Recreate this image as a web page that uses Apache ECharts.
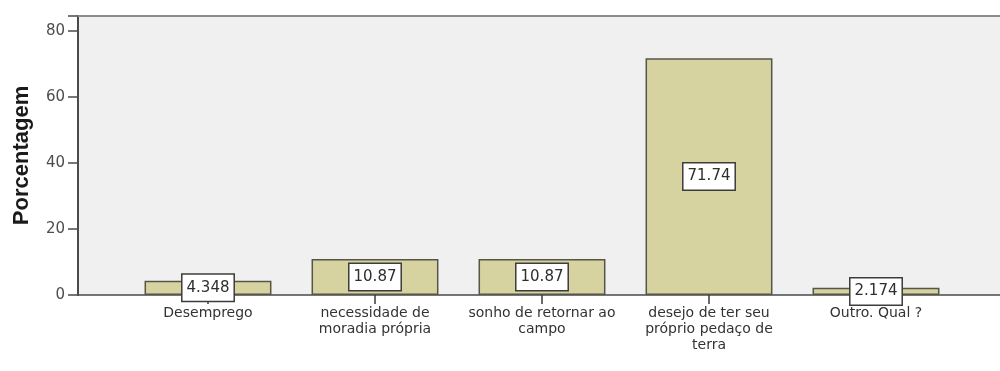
<!DOCTYPE html>
<html>
<head>
<meta charset="utf-8">
<style>
  html, body { margin: 0; padding: 0; background: #ffffff; }
  #chart { width: 1000px; height: 371px; }
</style>
<script src="https://cdn.jsdelivr.net/npm/echarts@6/dist/echarts.min.js"></script>
</head>
<body>
<div id="chart"></div>
<script>
// Motivos declarados (percentual de respostas)
const categories = [
  'Desemprego',
  'necessidade de\nmoradia própria',
  'sonho de retornar ao\ncampo',
  'desejo de ter seu\npróprio pedaço de\nterra',
  'Outro. Qual ?'
];
const percentages = [4.348, 10.87, 10.87, 71.74, 2.174];
const yTicks = [0, 20, 40, 60, 80];

const Y_MAX = 84.5;
const TOP = 16, BOTTOM = 76;
const textFont = 'DejaVu Sans';

const chart = echarts.init(document.getElementById('chart'), null, { renderer: 'canvas' });

chart.setOption({
  animation: false,
  grid: [
    // plot frame with grey background, y scale and baseline
    { left: 78, right: -6, top: TOP, bottom: BOTTOM, show: true,
      backgroundColor: '#f0f0f0', borderWidth: 0 },
    // inner band holding the bars
    { left: 124.5, right: 40.5, top: TOP, bottom: BOTTOM }
  ],
  xAxis: [
    { gridIndex: 0, type: 'value', min: 0, max: 1, position: 'bottom',
      axisLine: { show: true, lineStyle: { color: '#4a4a4a', width: 1.5 } },
      axisTick: { show: false }, axisLabel: { show: false }, splitLine: { show: false } },
    { gridIndex: 0, type: 'value', min: 0, max: 1, position: 'top',
      axisLine: { show: true, lineStyle: { color: '#8c8c8c', width: 2 } },
      axisTick: { show: false }, axisLabel: { show: false }, splitLine: { show: false } },
    { gridIndex: 1, type: 'category', data: categories, position: 'bottom',
      axisLine: { show: false },
      axisTick: { show: true, alignWithLabel: true, length: 9,
                  lineStyle: { color: '#3a3a3a', width: 1.5 } },
      axisLabel: { interval: 0, margin: 10, color: '#333333',
                   fontFamily: textFont, fontSize: 14, lineHeight: 16 } }
  ],
  yAxis: [
    { gridIndex: 0, type: 'value', min: 0, max: Y_MAX, interval: 20,
      name: 'Porcentagem', nameLocation: 'middle', nameGap: 45, nameRotate: 90,
      nameTextStyle: { fontFamily: 'Liberation Sans', fontWeight: 'bold',
                       fontSize: 22, color: '#1a1a1a' },
      axisLine: { show: true, lineStyle: { color: '#4a4a4a', width: 2 } },
      axisTick: { show: true, inside: false, length: 10,
                  lineStyle: { color: '#4a4a4a', width: 1.5 } },
      axisLabel: { color: '#4d4d4d', fontFamily: textFont, fontSize: 15, margin: 13,
                   formatter: v => (yTicks.includes(v) ? String(v) : '') },
      splitLine: { show: false } },
    { gridIndex: 1, type: 'value', min: 0, max: Y_MAX, show: false }
  ],
  series: [{
    type: 'bar',
    xAxisIndex: 2,
    yAxisIndex: 1,
    data: percentages,
    barCategoryGap: '24%',
    itemStyle: { color: '#d6d3a0', borderColor: '#555548', borderWidth: 1.5 },
    label: {
      show: true, position: 'inside',
      formatter: p => String(p.value),
      color: '#2e2e2e', fontFamily: textFont, fontSize: 15,
      backgroundColor: '#ffffff', borderColor: '#3c3c3c', borderWidth: 1.5,
      padding: [6, 4, 5, 4]
    }
  }]
});
</script>
</body>
</html>
